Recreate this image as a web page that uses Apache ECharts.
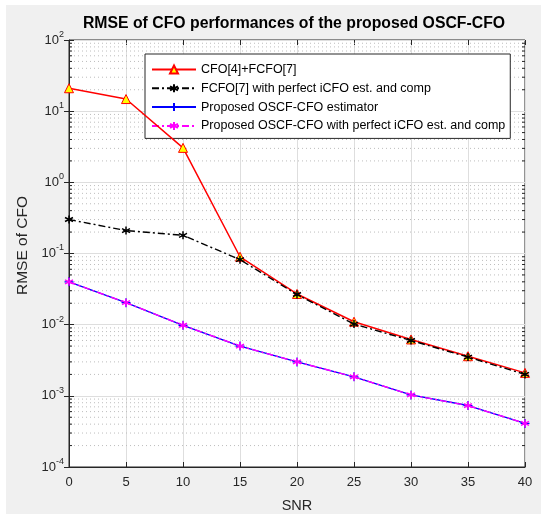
<!DOCTYPE html>
<html><head><meta charset="utf-8">
<script src="https://cdn.jsdelivr.net/npm/echarts@6/dist/echarts.min.js"></script>
<style>html,body{margin:0;padding:0;background:#fff}#c{width:547px;height:514px}</style>
</head><body><div id="c"></div>
<script>
const snr = [0, 5, 10, 15, 20, 25, 30, 35, 40];
const cfoFcfo = [21, 14.8, 3.05, 0.09, 0.027, 0.011, 0.0062, 0.0036, 0.0021];
const fcfoPerfect = [0.3, 0.21, 0.18, 0.082, 0.0265, 0.0102, 0.006, 0.0035, 0.002];
const oscfEst = [0.04, 0.0204, 0.0098, 0.005, 0.003, 0.00185, 0.00103, 0.00073, 0.00041];
const oscfPerfect = [0.04, 0.0204, 0.0098, 0.005, 0.003, 0.00185, 0.00103, 0.00073, 0.00041];
const xTicks = [0, 5, 10, 15, 20, 25, 30, 35, 40];
const names = ['CFO[4]+FCFO[7]', 'FCFO[7] with perfect iCFO est. and comp', 'Proposed OSCF-CFO estimator', 'Proposed OSCF-CFO with perfect iCFO est. and comp'];

const FONT = 'Liberation Sans, Arial, sans-serif';
const minorVals = [];
for (let e = -4; e < 2; e++) for (let k = 2; k <= 9; k++) minorVals.push([0, k * Math.pow(10, e)]);

const pair = (xs, ys) => xs.map((x, i) => [x, ys[i]]);
const asterisk = 'path://M5,0L5,10M0.7,2.5L9.3,7.5M9.3,2.5L0.7,7.5';
const plus = 'path://M5,0L5,10M0,5L10,5';

const chart = echarts.init(document.getElementById('c'), null, {renderer: 'canvas'});
chart.setOption({
  animation: false,
  backgroundColor: '#fff',
  graphic: [{type: 'rect', shape: {x: 6, y: 5, width: 535, height: 509}, style: {fill: '#f0f0f0'}, z: -10, silent: true}],
  title: {
    text: 'RMSE of CFO performances of the proposed OSCF-CFO',
    left: 289, top: 11, textAlign: 'center',
    textStyle: {fontFamily: FONT, fontSize: 15.8, fontWeight: 'bold', color: '#000'}
  },
  grid: {left: 69, right: 22, top: 40, bottom: 47, show: true, backgroundColor: '#fff', borderColor: '#262626', borderWidth: 1, outerBoundsMode: 'none', containLabel: false},
  legend: {
    orient: 'vertical', left: 145, top: 54,
    backgroundColor: '#fff', borderColor: '#262626', borderWidth: 1,
    padding: [9, 5, 6, 6], itemGap: 5.8, itemWidth: 44, itemHeight: 10,
    textStyle: {fontFamily: FONT, fontSize: 12.5, color: '#000'},
    data: names
  },
  xAxis: [{
    type: 'value', min: 0, max: 40, interval: 5,
    name: 'SNR', nameLocation: 'middle', nameGap: 31,
    nameTextStyle: {fontFamily: FONT, fontSize: 14.5, color: '#262626'},
    axisLine: {lineStyle: {color: '#262626'}},
    axisTick: {inside: true, length: 5, lineStyle: {color: '#262626'}},
    axisLabel: {fontFamily: FONT, fontSize: 13, color: '#262626', margin: 9},
    splitLine: {show: true, lineStyle: {color: '#dedede', width: 1}}
  }, {
    type: 'value', min: 0, max: 40, interval: 5, position: 'top',
    axisLine: {show: false}, axisTick: {inside: true, length: 5, lineStyle: {color: '#262626'}},
    axisLabel: {show: false}, splitLine: {show: false}
  }],
  yAxis: [{
    type: 'log', logBase: 10, min: 1e-4, max: 100,
    name: 'RMSE of CFO', nameLocation: 'middle', nameGap: 37,
    nameTextStyle: {fontFamily: FONT, fontSize: 15.5, color: '#262626', padding: [0, 0, 0, 16]},
    axisLine: {lineStyle: {color: '#262626'}},
    axisTick: {inside: true, length: 5, lineStyle: {color: '#262626'}},
    axisLabel: {
      margin: 5,
      formatter: v => '{b|10}{s|' + Math.round(Math.log10(v)) + '}',
      rich: {
        b: {fontFamily: FONT, fontSize: 13, color: '#262626'},
        s: {fontFamily: FONT, fontSize: 9, color: '#262626', padding: [0, 0, 11, 0]}
      }
    },
    splitLine: {show: true, lineStyle: {color: '#dedede', width: 1}}
  }, {
    type: 'log', logBase: 10, min: 1e-4, max: 100, position: 'right',
    axisLine: {show: false}, axisTick: {inside: true, length: 5, lineStyle: {color: '#262626'}},
    axisLabel: {show: false}, splitLine: {show: false}
  }],
  series: [
    {
      type: 'custom', silent: true, z: 1, clip: true,
      data: minorVals,
      renderItem: (params, api) => {
        const v = api.value(1);
        const l = api.coord([0, v]);
        const r = api.coord([40, v]);
        return {type: 'group', children: [
          {type: 'line', shape: {x1: l[0] + 1, y1: l[1], x2: r[0] - 1, y2: r[1]}, style: {stroke: '#bdbdbd', lineWidth: 1, lineDash: [1, 3]}},
          {type: 'line', shape: {x1: l[0], y1: l[1], x2: l[0] + 3, y2: l[1]}, style: {stroke: '#262626', lineWidth: 1}},
          {type: 'line', shape: {x1: r[0] - 3, y1: r[1], x2: r[0], y2: r[1]}, style: {stroke: '#262626', lineWidth: 1}}
        ]};
      }
    },
    {
      name: names[0], type: 'line', data: pair(snr, cfoFcfo), z: 5,
      lineStyle: {color: '#ff0000', width: 1.5},
      symbol: 'triangle', symbolSize: 9,
      itemStyle: {color: '#ffff00', borderColor: '#ff0000', borderWidth: 1}
    },
    {
      name: names[1], type: 'line', data: pair(snr, fcfoPerfect), z: 6,
      lineStyle: {color: '#000000', width: 1.4, type: [7, 3, 2, 3]},
      symbol: asterisk, symbolSize: 8,
      itemStyle: {color: '#000000', borderColor: '#000000', borderWidth: 1.5}
    },
    {
      name: names[2], type: 'line', data: pair(snr, oscfEst), z: 5,
      lineStyle: {color: '#0000ff', width: 1.4},
      symbol: plus, symbolSize: 9,
      itemStyle: {color: '#0000ff', borderColor: '#0000ff', borderWidth: 1.2}
    },
    {
      name: names[3], type: 'line', data: pair(snr, oscfPerfect), z: 6,
      lineStyle: {color: '#ff00ff', width: 1.4, type: [7, 3, 2, 3]},
      symbol: asterisk, symbolSize: 8,
      itemStyle: {color: '#ff00ff', borderColor: '#ff00ff', borderWidth: 1.5}
    }
  ]
});
</script></body></html>
